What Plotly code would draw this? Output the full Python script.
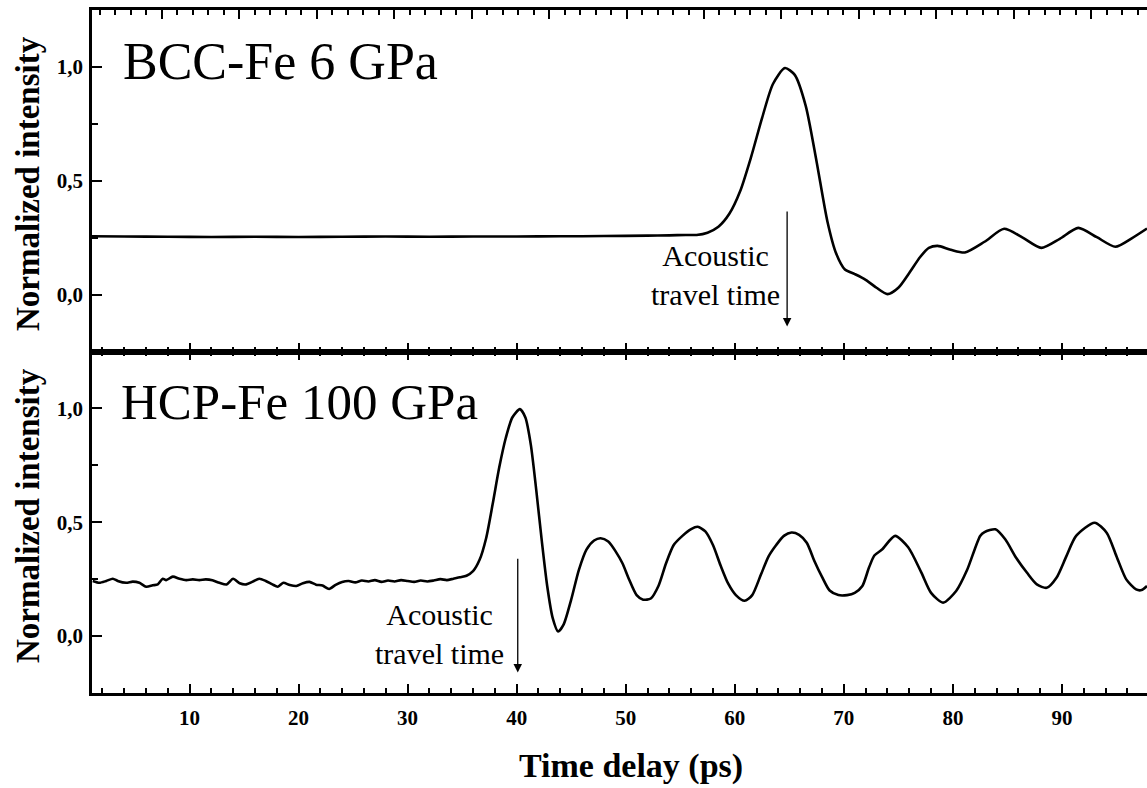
import plotly.graph_objects as go

# ---------------- data ----------------
bcc_time = [1.06, 4, 8, 12, 16, 20, 24, 28, 32, 36, 40, 44, 48, 52, 54, 55.5,
            56.5, 57.5, 58.5, 59.5, 60.5, 61.5, 62.5, 63.5, 64.6, 65.5, 66.5,
            67.5, 68.5, 69.3, 70.1, 71.0, 72.0, 73.0, 74.0, 75.0, 76.0, 77.0,
            77.8, 78.6, 79.8, 81.1, 82.9, 84.7, 86.4, 88.1, 89.8, 91.5, 93.2,
            94.9, 96.4, 97.8]
bcc_intensity = [0.256, 0.255, 0.254, 0.253, 0.254, 0.253, 0.254, 0.255, 0.254,
                 0.255, 0.255, 0.256, 0.257, 0.259, 0.260, 0.262,
                 0.262, 0.272, 0.298, 0.355, 0.455, 0.605, 0.775, 0.925, 0.995,
                 0.965, 0.83, 0.585, 0.32, 0.18, 0.11, 0.09, 0.065, 0.03, 0.002,
                 0.03, 0.095, 0.165, 0.205, 0.214, 0.197, 0.185, 0.232, 0.289,
                 0.25, 0.205, 0.245, 0.293, 0.252, 0.21, 0.247, 0.29]

hcp_time = [1.13, 1.74, 2.36, 2.97, 3.42, 4.19, 4.8, 5.41, 6.03, 6.63, 7.09,
            7.55, 7.86, 8.47, 9.08, 9.7, 10.3, 10.9, 11.5, 12.1, 12.75, 13.4,
            14.0, 14.6, 15.2, 15.8, 16.4, 17.0, 17.6, 18.1, 18.6, 19.2, 19.8,
            20.4, 21.0, 21.6, 22.2, 22.8, 23.4, 24.0, 24.6, 25.2, 25.8, 26.4,
            27.0, 27.6, 28.2, 28.8, 29.4, 30.0, 30.6, 31.2, 31.8, 32.4, 33.0,
            33.6, 34.2, 34.8, 35.4, 36.0, 36.6, 37.2, 37.8, 38.4, 39.0, 39.6,
            40.3, 40.8, 41.3, 41.8, 42.3, 42.8, 43.3, 43.8, 44.3, 45.0, 45.7,
            46.4, 47.1, 47.7, 48.4, 49.1, 49.7, 50.3, 51.0, 51.6, 52.3, 53.0,
            53.7, 54.4, 55.2, 56.0, 56.6, 57.3, 58.0, 58.7, 59.4, 60.1, 60.9,
            61.6, 62.4, 63.1, 63.8, 64.5, 65.2, 65.9, 66.6, 67.3, 68.0, 68.7,
            69.5, 70.3, 71.0, 71.7, 72.3, 72.8, 73.5, 74.7, 75.9, 77.1, 78.0,
            79.1, 80.3, 81.3, 82.5, 82.9, 83.9, 84.8, 85.8, 86.8, 87.7, 88.6,
            89.5, 90.4, 91.3, 93.0, 94.1, 95.0, 95.9, 96.8, 97.3, 97.8]
hcp_intensity = [0.242, 0.234, 0.242, 0.252, 0.242, 0.234, 0.239, 0.234, 0.217,
                 0.223, 0.227, 0.252, 0.246, 0.261, 0.252, 0.246, 0.249, 0.246,
                 0.249, 0.245, 0.234, 0.227, 0.252, 0.232, 0.227, 0.239, 0.252,
                 0.242, 0.227, 0.217, 0.234, 0.224, 0.220, 0.232, 0.238, 0.226,
                 0.222, 0.207, 0.225, 0.238, 0.242, 0.236, 0.244, 0.240, 0.246,
                 0.238, 0.244, 0.240, 0.246, 0.242, 0.238, 0.244, 0.240, 0.244,
                 0.250, 0.246, 0.252, 0.258, 0.265, 0.285, 0.335, 0.43, 0.58,
                 0.74, 0.87, 0.96, 0.997, 0.96, 0.84, 0.64, 0.42, 0.22, 0.08,
                 0.02, 0.05, 0.16, 0.29, 0.38, 0.42, 0.43, 0.415, 0.37, 0.32,
                 0.25, 0.18, 0.16, 0.165, 0.22, 0.32, 0.40, 0.44, 0.47, 0.48,
                 0.46, 0.40, 0.31, 0.23, 0.18, 0.155, 0.18, 0.27, 0.35, 0.40,
                 0.44, 0.455, 0.445, 0.41, 0.33, 0.26, 0.20, 0.18, 0.18, 0.19,
                 0.22, 0.30, 0.354, 0.38, 0.44, 0.39, 0.28, 0.19, 0.147, 0.198,
                 0.29, 0.44, 0.457, 0.469, 0.425, 0.344, 0.278, 0.227, 0.212,
                 0.256, 0.35, 0.44, 0.498, 0.454, 0.351, 0.249, 0.205, 0.202,
                 0.22]

y_tick_vals = [0.0, 0.5, 1.0]
y_tick_text = ["0,0", "0,5", "1,0"]
x_tick_vals = [10, 20, 30, 40, 50, 60, 70, 80, 90]

panel_titles = ["BCC-Fe 6 GPa", "HCP-Fe 100 GPa"]
arrow_text = "Acoustic<br>travel time"
bcc_travel_time = 64.8
hcp_travel_time = 40.1
x_title = "Time delay (ps)"
y_title = "Normalized intensity"

# ---------------- figure ----------------
SERIF = "Liberation Serif, Times New Roman, serif"
X_RANGE = [1.06, 97.8]
X_TOP_RANGE = [0.98, 137.2]
Y_RANGE = [-0.25, 1.25]
LW = 2.5

fig = go.Figure()
fig.add_trace(go.Scatter(x=bcc_time, y=bcc_intensity, mode="lines",
                         line=dict(color="black", width=2.6, shape="spline", smoothing=0.7),
                         xaxis="x", yaxis="y", showlegend=False, hoverinfo="skip"))
fig.add_trace(go.Scatter(x=hcp_time, y=hcp_intensity, mode="lines",
                         line=dict(color="black", width=2.6, shape="spline", smoothing=0.7),
                         xaxis="x2", yaxis="y2", showlegend=False, hoverinfo="skip"))
# empty trace so that the top (overlaying) axis of the upper panel is rendered
fig.add_trace(go.Scatter(x=[], y=[], mode="lines", xaxis="x3", yaxis="y",
                         showlegend=False, hoverinfo="skip"))

tickfont = dict(family=SERIF, size=21, color="black", weight="bold")

common_x = dict(range=X_RANGE, showline=True, linewidth=LW, linecolor="black",
                ticks="inside", ticklen=9, tickwidth=2, tickcolor="black",
                tickmode="array", tickvals=x_tick_vals,
                minor=dict(dtick=2, tick0=0, ticks="inside", ticklen=5,
                           tickwidth=2, tickcolor="black"),
                showgrid=False, zeroline=False)
common_y = dict(range=Y_RANGE, showline=True, linewidth=LW, linecolor="black",
                ticks="inside", ticklen=10, tickwidth=2, tickcolor="black",
                tickmode="array", tickvals=y_tick_vals, ticktext=y_tick_text,
                tickfont=tickfont, ticklabelstandoff=2,
                minor=dict(dtick=0.25, tick0=0, ticks="inside", ticklen=6,
                           tickwidth=2, tickcolor="black"),
                showgrid=False, zeroline=False)

fig.update_layout(
    width=1147, height=788,
    margin=dict(l=92, r=0, t=10, b=95),
    paper_bgcolor="white", plot_bgcolor="white",
    showlegend=False,
    xaxis=dict(**common_x, anchor="y", domain=[0, 1], showticklabels=False),
    xaxis2=dict(**common_x, anchor="y2", domain=[0, 1], matches="x",
                mirror="ticks", showticklabels=True, tickfont=tickfont,
                ticklabelstandoff=4),
    xaxis3=dict(overlaying="x", side="top", anchor="y", range=X_TOP_RANGE,
                showline=True, linewidth=LW, linecolor="black",
                ticks="inside", ticklen=9, tickwidth=2, tickcolor="black",
                dtick=10, tick0=0, showticklabels=False,
                minor=dict(dtick=2, tick0=0, ticks="inside", ticklen=5,
                           tickwidth=2, tickcolor="black"),
                showgrid=False, zeroline=False),
    yaxis=dict(**common_y, anchor="x", domain=[0.5, 1]),
    yaxis2=dict(**common_y, anchor="x2", domain=[0, 0.5]),
)

annotations = []
# panel titles
annotations.append(dict(text=panel_titles[0], xref="paper", yref="paper",
                        x=0.0275, y=0.924, xanchor="left", yanchor="middle",
                        showarrow=False, font=dict(family=SERIF, size=52, color="black")))
annotations.append(dict(text=panel_titles[1], xref="paper", yref="paper",
                        x=0.0255, y=0.426, xanchor="left", yanchor="middle",
                        showarrow=False, font=dict(family=SERIF, size=51, color="black")))
# acoustic text
annotations.append(dict(text=arrow_text, xref="x", yref="y", x=58.2, y=0.085,
                        xanchor="center", yanchor="middle", align="center",
                        showarrow=False, font=dict(family=SERIF, size=30, color="black")))
annotations.append(dict(text=arrow_text, xref="x2", yref="y2", x=32.9, y=0.01,
                        xanchor="center", yanchor="middle", align="center",
                        showarrow=False, font=dict(family=SERIF, size=30, color="black")))
# arrows
annotations.append(dict(text="", xref="x", yref="y", x=bcc_travel_time, y=-0.14,
                        axref="x", ayref="y", ax=bcc_travel_time, ay=0.372,
                        showarrow=True, arrowhead=2, arrowsize=1.3, arrowwidth=1.3,
                        arrowcolor="black"))
annotations.append(dict(text="", xref="x2", yref="y2", x=hcp_travel_time, y=-0.16,
                        axref="x2", ayref="y2", ax=hcp_travel_time, ay=0.346,
                        showarrow=True, arrowhead=2, arrowsize=1.3, arrowwidth=1.3,
                        arrowcolor="black"))
# axis titles
annotations.append(dict(text="<b>" + x_title + "</b>", xref="paper", yref="paper",
                        x=(631 - 92) / 1055, y=-(766 - 693) / 683,
                        xanchor="center", yanchor="middle", showarrow=False,
                        borderpad=0,
                        font=dict(family=SERIF, size=34, color="black")))
for yc in [1 - (184 - 10) / 683, (693 - 516) / 683]:
    annotations.append(dict(text="<b>" + y_title + "</b>", xref="paper", yref="paper",
                            x=-(92 - 28) / 1055, y=yc, textangle=-90,
                            xanchor="center", yanchor="middle", showarrow=False,
                            font=dict(family=SERIF, size=33, color="black")))
fig.update_layout(annotations=annotations)

fig.write_html("out.html")
